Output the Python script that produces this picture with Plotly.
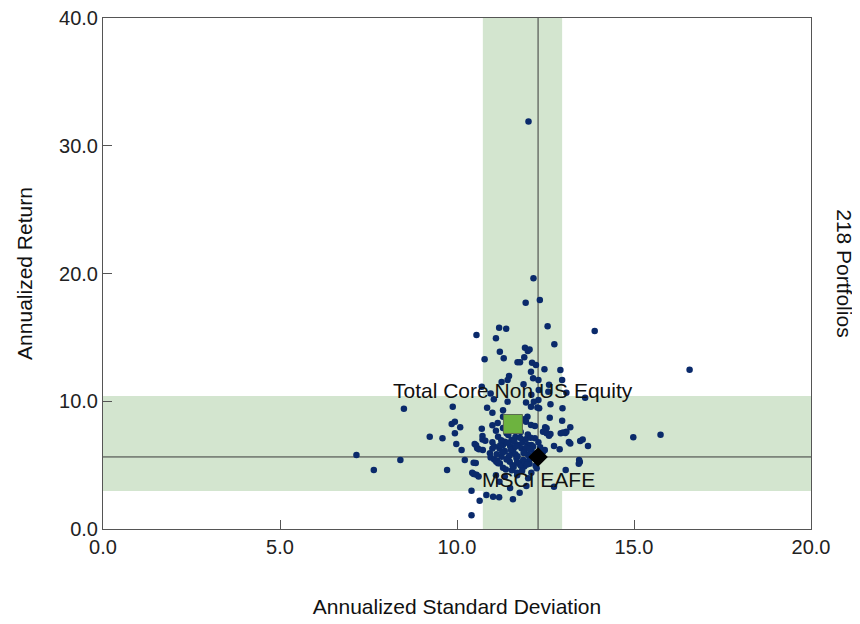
import plotly.graph_objects as go

# Universe portfolios: annualized standard deviation (x) and annualized return (y)
port_sd = [
    12.02, 12.16, 11.94, 12.34, 11.19, 11.39, 12.56, 10.55, 13.89, 16.57,
    12.75, 11.10, 11.21, 11.92, 12.00, 12.05, 10.78, 11.32, 11.71, 11.78,
    11.90, 12.12, 12.23, 12.09, 12.47, 12.92, 11.47, 11.43, 12.15, 12.30,
    12.60, 12.97, 11.88, 12.31, 10.70, 11.26, 13.09, 13.62, 11.04, 11.43,
    12.30, 12.17, 12.58, 9.88, 11.00, 12.32, 12.64, 12.98, 12.09, 12.27,
    12.62, 12.97, 13.20, 12.49, 9.94, 9.85, 10.09, 10.70, 11.00, 11.99,
    12.09, 12.20, 12.53, 8.50, 7.16, 7.65, 8.40, 9.23, 9.59, 9.94,
    9.98, 10.13, 10.50, 10.73, 10.57, 11.30, 10.22, 10.47, 9.72, 10.93,
    11.13, 10.43, 10.61, 11.21, 10.41, 10.64, 10.83, 11.02, 11.19, 11.58,
    11.77, 10.41, 12.01, 11.96, 10.72, 10.72, 10.80, 10.54, 10.62, 11.11,
    10.95, 11.05, 10.53, 10.47, 10.55, 11.30, 12.43, 12.53, 11.16, 11.35,
    11.54, 11.73, 11.94, 12.10, 11.82, 11.58, 11.65, 12.01, 12.43, 11.26,
    11.68, 11.87, 11.49, 11.16, 12.25, 13.09, 12.64, 12.60, 12.93, 13.16,
    13.20, 13.48, 13.55, 13.70, 12.74, 12.90, 13.47, 13.45, 13.44, 13.07,
    12.74, 12.48, 14.98, 15.75, 13.06, 13.00, 11.40, 11.60, 11.80, 12.00,
    11.50, 11.60, 11.90, 12.10, 12.20, 11.35, 11.45, 11.75, 11.90, 12.05,
    11.30, 11.55, 11.70, 12.10, 11.20, 11.00, 11.10, 12.20, 12.30, 12.35,
    11.00, 11.85, 12.00, 11.65, 11.30, 11.15, 11.30, 10.95, 10.85, 11.95,
    12.10, 11.70, 11.35, 11.20, 11.50, 11.10, 11.90, 11.95, 11.25, 11.42,
    11.62, 11.78, 11.95, 12.15, 11.33, 11.52, 11.71, 11.88, 12.05, 12.18,
    11.12, 11.40, 11.57, 11.80, 12.03, 11.22, 11.45, 11.66, 11.92, 12.12,
    11.05, 11.28, 11.48, 11.70, 11.98, 12.22, 11.38, 11.60, 11.84, 12.08,
]
port_ret = [
    31.90, 19.62, 17.71, 17.93, 15.76, 15.68, 15.87, 15.19, 15.50, 12.47,
    14.46, 14.93, 13.88, 14.19, 13.93, 14.05, 13.28, 13.36, 13.05, 13.05,
    13.44, 13.02, 12.84, 12.31, 12.50, 12.45, 11.98, 11.66, 11.80, 11.66,
    11.30, 11.66, 11.33, 10.88, 11.14, 11.51, 10.67, 10.28, 10.15, 9.97,
    10.10, 9.97, 10.75, 9.57, 9.10, 9.45, 9.76, 9.45, 9.57, 9.52,
    8.71, 8.48, 7.96, 7.96, 8.40, 8.22, 7.96, 7.85, 8.12, 8.79,
    8.14, 8.06, 7.88, 9.42, 5.79, 4.62, 5.40, 7.23, 7.10, 7.49,
    6.65, 6.18, 6.65, 6.18, 6.32, 6.58, 5.40, 5.19, 4.62, 5.93,
    5.35, 4.41, 4.10, 5.14, 3.00, 2.22, 2.66, 2.53, 2.48, 2.32,
    2.84, 1.07, 3.97, 3.37, 7.28, 7.00, 6.91, 6.55, 6.24, 5.27,
    5.60, 5.45, 5.17, 4.30, 4.25, 8.79, 7.62, 7.49, 7.23, 6.83,
    6.97, 6.58, 7.02, 6.58, 6.32, 5.93, 5.85, 5.79, 6.05, 5.66,
    5.53, 5.40, 5.27, 5.14, 4.75, 7.62, 7.44, 7.30, 7.49, 6.81,
    6.70, 6.89, 7.00, 6.50, 6.50, 6.24, 5.24, 5.40, 5.10, 4.62,
    3.31, 6.18, 7.18, 7.38, 7.51, 7.55, 7.50, 7.70, 7.60, 7.40,
    6.50, 6.30, 6.10, 6.20, 5.90, 6.10, 5.60, 5.10, 4.90, 5.10,
    4.80, 4.60, 4.40, 4.40, 6.30, 6.80, 7.70, 7.10, 6.80, 6.40,
    6.30, 6.80, 6.60, 7.20, 7.90, 8.30, 9.30, 10.60, 9.50, 9.90,
    10.50, 4.20, 4.10, 3.70, 3.20, 4.20, 8.60, 8.40, 6.95, 6.75,
    6.85, 7.15, 6.35, 6.45, 6.05, 6.20, 5.70, 5.95, 6.25, 5.55,
    5.85, 5.45, 5.00, 4.95, 5.35, 6.55, 7.35, 6.45, 5.20, 5.70,
    6.45, 6.00, 5.75, 5.25, 5.05, 4.95, 4.65, 4.85, 4.55, 7.15,
]

fund_name = "Total Core Non US Equity"
fund_sd = [11.58]
fund_ret = [8.22]

bench_name = "MSCI EAFE"
bench_sd = [12.29]
bench_ret = [5.64]

# Shaded ranges of the universe
sd_band = [10.73, 12.97]
ret_band = [2.97, 10.41]

x_ticks = [0, 5, 10, 15, 20]
y_ticks = [0, 10, 20, 30, 40]
portfolio_count_label = "218 Portfolios"

FONT = "Liberation Sans, Arial, sans-serif"
BAND = "#d3e5cf"
LINE = "#3a3a3a"

fig = go.Figure()

fig.add_shape(type="rect", xref="x", yref="paper", x0=sd_band[0], x1=sd_band[1], y0=0, y1=1,
              fillcolor=BAND, line_width=0, layer="below")
fig.add_shape(type="rect", xref="paper", yref="y", x0=0, x1=1, y0=ret_band[0], y1=ret_band[1],
              fillcolor=BAND, line_width=0, layer="below")
fig.add_shape(type="line", xref="x", yref="paper", x0=bench_sd[0], x1=bench_sd[0], y0=0, y1=1,
              line=dict(color=LINE, width=1), layer="below")
fig.add_shape(type="line", xref="paper", yref="y", x0=0, x1=1, y0=bench_ret[0], y1=bench_ret[0],
              line=dict(color=LINE, width=1), layer="below")

fig.add_trace(go.Scatter(x=port_sd, y=port_ret, mode="markers",
                         marker=dict(color="#0a2a6b", size=6.5, line=dict(width=0)),
                         showlegend=False, hoverinfo="x+y"))
fig.add_trace(go.Scatter(x=fund_sd, y=fund_ret, mode="markers", name=fund_name,
                         marker=dict(symbol="square", color="#6db33f", size=19,
                                     line=dict(color="#5a6b50", width=1)),
                         showlegend=False))
fig.add_trace(go.Scatter(x=bench_sd, y=bench_ret, mode="markers", name=bench_name,
                         marker=dict(symbol="diamond", color="#000000", size=15),
                         showlegend=False))

fig.add_annotation(x=fund_sd[0], y=fund_ret[0], text=fund_name, showarrow=False,
                   yshift=33, font=dict(family=FONT, size=21, color="#111111"))
fig.add_annotation(x=bench_sd[0], y=bench_ret[0], text=bench_name, showarrow=False,
                   yshift=-23, font=dict(family=FONT, size=21, color="#111111"))
fig.add_annotation(xref="paper", yref="paper", x=1.047, y=0.5, xanchor="center", yanchor="middle",
                   text=portfolio_count_label, textangle=90, showarrow=False,
                   font=dict(family=FONT, size=21, color="#111111"))

axis_common = dict(showline=True, mirror=True, linecolor="#555555", linewidth=1,
                   showgrid=False, zeroline=False, ticks="inside", ticklen=9,
                   tickcolor="#555555", tickformat=".1f", automargin=False,
                   ticklabeloverflow="allow",
                   tickfont=dict(family=FONT, size=20, color="#222222"))

fig.update_layout(
    width=852, height=616, autosize=False,
    margin=dict(l=95, r=49, t=10, b=95),
    plot_bgcolor="white", paper_bgcolor="white",
    xaxis=dict(range=[0, 20], tickvals=x_ticks,
               title=dict(text="Annualized Standard Deviation", standoff=42,
                          font=dict(family=FONT, size=21, color="#111111")),
               **axis_common),
    yaxis=dict(range=[0, 40], tickvals=y_ticks,
               title=dict(text="Annualized Return", standoff=20,
                          font=dict(family=FONT, size=21, color="#111111")),
               **axis_common),
)

fig.write_html("out.html")
